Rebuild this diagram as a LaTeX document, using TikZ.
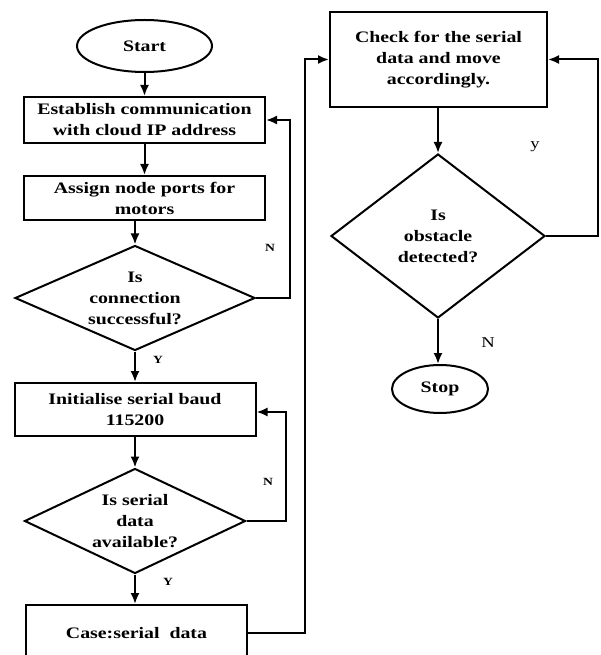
\documentclass[tikz,border=0pt]{standalone}
\usepackage{fontspec}
\setmainfont{Liberation Serif}[FakeStretch=1.24]
\usetikzlibrary{shapes.geometric, arrows.meta}
\tikzset{
  block/.style={draw, line width=2pt, inner sep=0pt, align=center,
    font=\bfseries\fontsize{16}{21}\selectfont},
  decision/.style={block, diamond},
  terminal/.style={block, ellipse},
  flow/.style={-{Latex[length=11pt, width=9pt]}, line width=2pt},
  smalllbl/.style={font=\bfseries\fontsize{11}{13}\selectfont},
  biglbl/.style={font=\fontsize{15}{17}\selectfont},
}
\begin{document}
\begin{tikzpicture}[x=1pt, y=-1pt]
    \useasboundingbox (0,0) rectangle (600,655);
    \clip (0,0) rectangle (600,655);

    \node [terminal, minimum width=135, minimum height=52] (start) at (144.5, 46) {Start};
    \node [block, minimum width=241, minimum height=46] (establish) at (144.5, 120) {Establish communication\\with cloud IP address};
    \node [block, minimum width=241, minimum height=44] (assign) at (144.5, 198) {Assign node ports for\\motors};
    \node [decision, aspect=2.29, minimum width=240, minimum height=105] (isconn) at (135, 298) {Is\\connection\\successful?};
    \node [block, minimum width=241, minimum height=53] (initbaud) at (135, 409.5) {Initialise serial baud\\115200};
    \node [decision, aspect=2.1, minimum width=221, minimum height=105] (isdata) at (135, 521) {Is serial\\data\\available?};
    \node [block, minimum width=221, minimum height=56] (casedata) at (136.5, 633) {Case:serial~ data};
    \node [block, minimum width=217, minimum height=95] (check) at (438.5, 59.5) {Check for the serial\\data and move\\accordingly.};
    \node [decision, aspect=1.3, minimum width=214, minimum height=164] (isobst) at (438, 236) {Is\\obstacle\\detected?};
    \node [terminal, minimum width=96, minimum height=48] (stop) at (440, 389) {Stop};

    \coordinate (loopa) at (290, 0);
    \coordinate (loopb) at (286, 0);
    \coordinate (rail) at (305, 0);
    \coordinate (loopc) at (598, 0);

    \draw [flow] (start) -- (establish);
    \draw [flow] (establish) -- (assign);
    \draw [flow] (assign.south -| isconn) -- (isconn);
    \draw [flow] (isconn) -- (initbaud);
    \draw [flow] (initbaud) -- (isdata);
    \draw [flow] (isdata) -- (isdata |- casedata.north);
    \draw [flow] (isconn.east) -- (isconn.east -| loopa) -- (loopa |- establish.east) -- (establish.east);
    \draw [flow] (isdata.east) -- (isdata.east -| loopb) -- ([yshift=-2.5pt]loopb |- initbaud.east) -- ([yshift=-2.5pt]initbaud.east);
    \draw [flow] (casedata.east) -- (casedata.east -| rail) -- (rail |- check.west) -- (check.west);
    \draw [flow] (check.south -| isobst) -- (isobst);
    \draw [flow] (isobst.south) -- (isobst.south |- stop.north);
    \draw [flow] (isobst.east) -- (isobst.east -| loopc) -- (loopc |- check.east) -- (check.east);

    \node [smalllbl] (nconn) at (270, 248) {N};
    \node [smalllbl] (yconn) at (158, 360) {Y};
    \node [smalllbl] (ndata) at (268, 482) {N};
    \node [smalllbl] (ydata) at (168, 582) {Y};
    \node [biglbl] (yobst) at (535, 147) {y};
    \node [biglbl] (nobst) at (488, 343) {N};
\end{tikzpicture}
\end{document}
